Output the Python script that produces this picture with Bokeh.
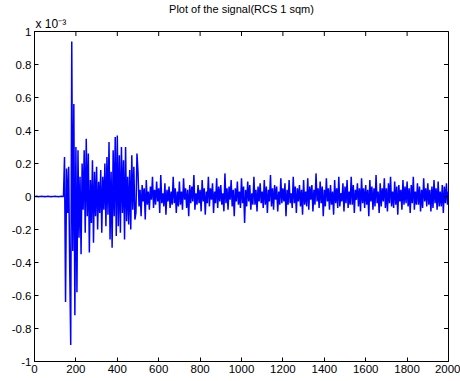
import math
from bokeh.plotting import figure
from bokeh.models import Range1d, Title, FixedTicker
from bokeh.embed import file_html
from bokeh.resources import INLINE

title_text = "Plot of the signal(RCS 1 sqm)"
scale_text = "x 10\u207b\u00b3"
step = 5  # signal shown every 5 samples

quiet = [0.0, 0.0, 0.002, 0.0, -0.002, 0.0, 0.0, 0.002, 0.0, 0.0,
         -0.002, 0.0, 0.0, 0.002, 0.0, 0.0, -0.002, 0.0, 0.0, 0.0,
         0.002, 0.0, 0.0, -0.002, 0.0, 0.0, 0.002, 0.0]
burst1 = [0.00, 0.24, -0.64, 0.17, -0.10, 0.18, -0.42, -0.90, 0.94, -0.33,
          0.56, -0.72, 0.30, -0.58, 0.28, -0.25, 0.12, -0.35, 0.20, -0.08,
          0.28, -0.22, 0.35, -0.12, 0.26, -0.34, 0.10, -0.16, 0.22, -0.28,
          0.15, -0.12]
burst2 = [0.18, -0.20, 0.09, -0.10, 0.16, -0.22, 0.12, -0.08, 0.20, -0.18,
          0.24, -0.11, 0.33, -0.26, 0.15, -0.31, 0.28, -0.12, 0.36, -0.24,
          0.37, -0.18, 0.25, -0.22, 0.30, -0.10, 0.22, -0.26, 0.30, -0.15,
          0.12, -0.17, 0.16, -0.20, 0.25, -0.08, 0.18, -0.14, -0.10, 0.26]
tail = [
    0.15, -0.06, 0.04, -0.12, 0.07, -0.03, 0.05, -0.14, 0.10, -0.05, 0.03, -0.08, 0.06, -0.02, 0.12, -0.07, 0.04, -0.05, 0.09, -0.03,
    0.05, -0.10, 0.13, -0.04, 0.02, -0.06, 0.08, -0.11, 0.04, -0.03, 0.06, -0.07, 0.03, -0.05, 0.12, -0.04, 0.05, -0.10, 0.03, -0.06,
    0.09, -0.05, 0.03, -0.08, 0.11, -0.02, 0.05, -0.07, 0.04, -0.12, 0.07, -0.04, 0.06, -0.03, 0.13, -0.08, 0.02, -0.05, 0.07, -0.04,
    0.04, -0.09, 0.10, -0.03, 0.05, -0.11, 0.03, -0.04, 0.12, -0.06, 0.05, -0.02, 0.08, -0.10, 0.03, -0.04, 0.11, -0.07, 0.06, -0.03,
    0.07, -0.05, 0.02, -0.09, 0.14, -0.04, 0.05, -0.08, 0.06, -0.02, 0.10, -0.06, 0.04, -0.12, 0.05, -0.03, 0.09, -0.05, 0.03, -0.07,
    0.11, -0.04, 0.06, -0.16, 0.04, -0.06, 0.09, -0.03, 0.07, -0.08, 0.02, -0.05, 0.12, -0.05, 0.04, -0.09, 0.06, -0.03, 0.08, -0.04,
    0.03, -0.07, 0.10, -0.05, 0.06, -0.10, 0.04, -0.03, 0.13, -0.06, 0.05, -0.08, 0.07, -0.02, 0.06, -0.09, 0.03, -0.05, 0.11, -0.04,
    0.05, -0.03, 0.08, -0.12, 0.04, -0.05, 0.10, -0.04, 0.02, -0.07, 0.12, -0.04, 0.06, -0.10, 0.05, -0.03, 0.07, -0.06, 0.04, -0.11,
    0.10, -0.05, 0.03, -0.06, 0.11, -0.08, 0.06, -0.02, 0.07, -0.09, 0.04, -0.05, 0.14, -0.03, 0.05, -0.07, 0.09, -0.04, 0.06, -0.12,
    0.04, -0.06, 0.11, -0.03, 0.05, -0.08, 0.07, -0.05, 0.03, -0.11, 0.10, -0.04, 0.05, -0.07, 0.12, -0.06, 0.02, -0.03, 0.08, -0.09,
    0.06, -0.04, 0.10, -0.07, 0.03, -0.05, 0.12, -0.05, 0.07, -0.10, 0.04, -0.02, 0.08, -0.06, 0.05, -0.09, 0.11, -0.04, 0.05, -0.07,
    0.07, -0.05, 0.04, -0.12, 0.10, -0.03, 0.06, -0.08, 0.05, -0.06, 0.13, -0.04, 0.03, -0.10, 0.08, -0.06, 0.05, -0.03, 0.11, -0.07,
    0.05, -0.09, 0.08, -0.04, 0.12, -0.06, 0.03, -0.07, 0.09, -0.05, 0.06, -0.11, 0.07, -0.03, 0.04, -0.08, 0.10, -0.05, 0.06, -0.04,
    0.09, -0.06, 0.05, -0.10, 0.07, -0.04, 0.12, -0.08, 0.03, -0.05, 0.08, -0.05, 0.06, -0.09, 0.04, -0.07, 0.11, -0.03, 0.05, -0.06,
    0.08, -0.05, 0.04, -0.09, 0.06, -0.07, 0.10, -0.04, 0.05, -0.08, 0.09, -0.06, 0.03, -0.06, 0.07, -0.10, 0.06, -0.04, 0.08, -0.05,
    0.03,
]
signal = quiet + burst1 + burst2 + tail
samples = [i * step for i in range(len(signal))]

x_ticks = [0, 200, 400, 600, 800, 1000, 1200, 1400, 1600, 1800, 2000]
y_ticks = [-1, -0.8, -0.6, -0.4, -0.2, 0, 0.2, 0.4, 0.6, 0.8, 1]
y_tick_labels = {-1: "-1", -0.8: "-0.8", -0.6: "-0.6", -0.4: "-0.4", -0.2: "-0.2",
                 0: "0", 0.2: "0.2", 0.4: "0.4", 0.6: "0.6", 0.8: "0.8", 1: "1"}
x_min, x_max = 0, 2000
y_min, y_max = -1, 1

FONT = "Liberation Sans"

p = figure(width=460, height=381, output_backend="svg", toolbar_location=None,
           x_range=Range1d(x_min, x_max), y_range=Range1d(y_min, y_max),
           min_border_left=34, min_border_right=12, min_border_top=31, min_border_bottom=20)
p.title = Title(text=title_text, align="center", text_font=FONT, text_font_size="11px",
                text_font_style="normal", text_color="black", standoff=0, offset=0)
p.add_layout(Title(text=scale_text, align="left", text_font=FONT, text_font_size="12px",
                   text_font_style="normal", text_color="black", standoff=1, offset=1), "above")
p.background_fill_color = "white"
p.border_fill_color = "white"
p.xgrid.visible = False
p.ygrid.visible = False
p.outline_line_color = "black"
p.outline_line_width = 1

p.line(samples, signal, line_color="#0000ff", line_width=1.5)

for ax in (p.xaxis[0], p.yaxis[0]):
    ax.major_tick_in = 4
    ax.major_tick_out = 0
    ax.minor_tick_in = 0
    ax.minor_tick_out = 0
    ax.axis_line_color = "black"
    ax.major_tick_line_color = "black"
    ax.major_label_text_font = FONT
    ax.major_label_text_font_size = "11.5px"
    ax.major_label_text_color = "black"
    ax.major_label_standoff = 3

p.xaxis[0].ticker = FixedTicker(ticks=x_ticks)
p.yaxis[0].ticker = FixedTicker(ticks=y_ticks)
p.yaxis[0].major_label_overrides = y_tick_labels

# inward ticks on the top and right edges of the box (half of each dash is clipped by the frame)
p.scatter(x_ticks, [y_max] * len(x_ticks), marker="dash", size=9, angle=math.pi / 2,
          line_color="black", line_width=1)
p.scatter([x_max] * len(y_ticks), y_ticks, marker="dash", size=9,
          line_color="black", line_width=1)

open("out.html", "w").write(file_html(p, INLINE))
